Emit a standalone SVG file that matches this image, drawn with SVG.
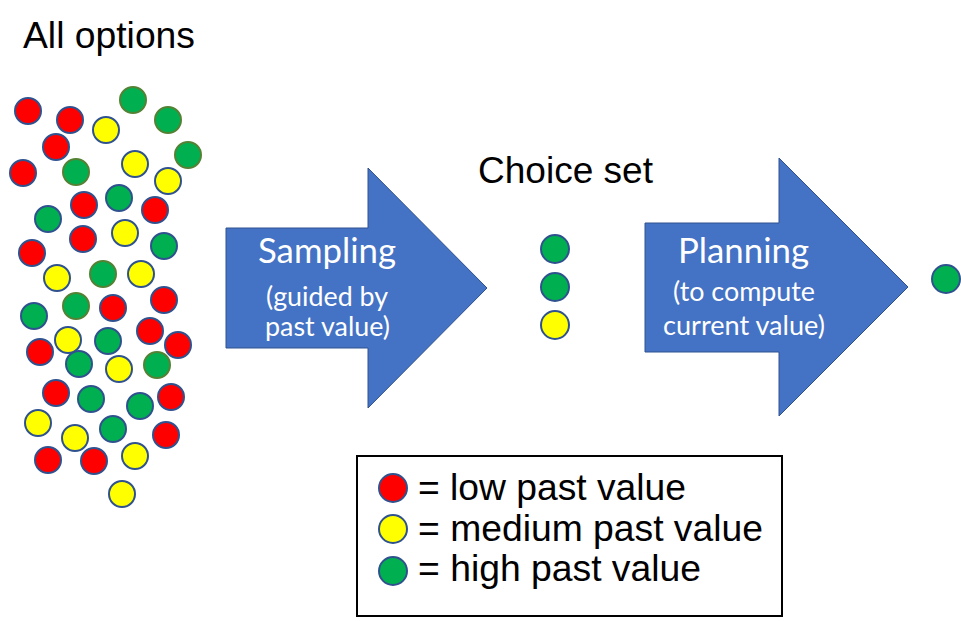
<svg xmlns="http://www.w3.org/2000/svg" width="961" height="621" viewBox="0 0 961 621">
<style>
.t{font-family:"Liberation Sans",Arial,sans-serif;font-size:36px;fill:#000}
.c{font-family:Lato,"Open Sans",sans-serif;fill:#fff}
.big{font-size:34px}
.sm{font-size:27px}
.r{fill:#FF0000;stroke:#2F528F;stroke-width:2}
.y{fill:#FFFF00;stroke:#2F528F;stroke-width:2}
.g{fill:#00B050;stroke:#2F528F;stroke-width:2}
.go{fill:#00B050;stroke:#548235;stroke-width:2}
.arrow{fill:#4472C4;stroke:#2F528F;stroke-width:1}
</style>
<rect width="961" height="621" fill="#fff"/>
<g id="title"><text class="t" x="23" y="48" textLength="172" lengthAdjust="spacingAndGlyphs">All options</text></g>
<g id="all-options">
<circle class="r" cx="28" cy="111" r="13"/>
<circle class="r" cx="70" cy="120" r="13"/>
<circle class="go" cx="133" cy="100" r="13"/>
<circle class="go" cx="168" cy="120" r="13"/>
<circle class="y" cx="106" cy="130" r="13"/>
<circle class="r" cx="56" cy="147" r="13"/>
<circle class="go" cx="188" cy="155" r="13"/>
<circle class="r" cx="23" cy="173" r="13"/>
<circle class="go" cx="76" cy="172" r="13"/>
<circle class="y" cx="135" cy="164" r="13"/>
<circle class="y" cx="168" cy="181" r="13"/>
<circle class="r" cx="84" cy="205" r="13"/>
<circle class="g" cx="119" cy="198" r="13"/>
<circle class="g" cx="48" cy="219" r="13"/>
<circle class="r" cx="155" cy="210" r="13"/>
<circle class="r" cx="83" cy="239" r="13"/>
<circle class="y" cx="125" cy="233" r="13"/>
<circle class="g" cx="164" cy="246" r="13"/>
<circle class="r" cx="32" cy="253" r="13"/>
<circle class="y" cx="57" cy="278" r="13"/>
<circle class="go" cx="103" cy="274" r="13"/>
<circle class="y" cx="141" cy="274" r="13"/>
<circle class="r" cx="164" cy="300" r="13"/>
<circle class="go" cx="76" cy="306" r="13"/>
<circle class="r" cx="113" cy="308" r="13"/>
<circle class="g" cx="34" cy="316" r="13"/>
<circle class="r" cx="150" cy="331" r="13"/>
<circle class="y" cx="68" cy="340" r="13"/>
<circle class="g" cx="108" cy="341" r="13"/>
<circle class="r" cx="178" cy="345" r="13"/>
<circle class="r" cx="40" cy="352" r="13"/>
<circle class="g" cx="79" cy="364" r="13"/>
<circle class="y" cx="119" cy="369" r="13"/>
<circle class="go" cx="157" cy="365" r="13"/>
<circle class="r" cx="56" cy="393" r="13"/>
<circle class="g" cx="91" cy="399" r="13"/>
<circle class="r" cx="171" cy="397" r="13"/>
<circle class="g" cx="140" cy="406" r="13"/>
<circle class="y" cx="38" cy="423" r="13"/>
<circle class="y" cx="75" cy="438" r="13"/>
<circle class="g" cx="113" cy="429" r="13"/>
<circle class="r" cx="166" cy="435" r="13"/>
<circle class="r" cx="48" cy="460" r="13"/>
<circle class="r" cx="94" cy="461" r="13"/>
<circle class="y" cx="135" cy="456" r="13"/>
<circle class="y" cx="122" cy="494" r="13"/>
</g>
<g id="connectors">
<g id="sampling-arrow">
<polygon class="arrow" points="226,228 368,228 368,168 487,288 368,408 368,348 226,348"/>
<text class="c big" x="258" y="263" textLength="138" lengthAdjust="spacingAndGlyphs">Sampling</text>
<text class="c sm" x="266" y="306" textLength="122" lengthAdjust="spacingAndGlyphs">(guided by</text>
<text class="c sm" x="265" y="336" textLength="125" lengthAdjust="spacingAndGlyphs">past value)</text>
</g>
<g id="planning-arrow">
<polygon class="arrow" points="645,223 779,223 779,158 908,287 779,416 779,352 645,352"/>
<text class="c big" x="678" y="263" textLength="131" lengthAdjust="spacingAndGlyphs">Planning</text>
<text class="c sm" x="673" y="301" textLength="142" lengthAdjust="spacingAndGlyphs">(to compute</text>
<text class="c sm" x="663" y="335" textLength="162" lengthAdjust="spacingAndGlyphs">current value)</text>
</g>
</g>
<g id="choice-set">
<text class="t" x="478" y="183" textLength="175" lengthAdjust="spacingAndGlyphs">Choice set</text>
<circle class="g" cx="555" cy="249" r="14" stroke-width="1.5"/>
<circle class="g" cx="555" cy="287" r="14" stroke-width="1.5"/>
<circle class="y" cx="555" cy="325" r="14" stroke-width="1.5"/>
</g>
<g id="result">
<circle class="g" cx="946" cy="279" r="14" stroke-width="1.5"/>
</g>
<g id="legend">
<rect x="357" y="456" width="425" height="160" fill="#fff" stroke="#000" stroke-width="2"/>
<circle class="r" cx="393" cy="488" r="14" stroke-width="1.5"/>
<circle class="y" cx="393" cy="529" r="14" stroke-width="1.5"/>
<circle class="g" cx="393" cy="571" r="14" stroke-width="1.5"/>
<text class="t" x="418" y="500" textLength="268" lengthAdjust="spacingAndGlyphs">= low past value</text>
<text class="t" x="418" y="541" textLength="345" lengthAdjust="spacingAndGlyphs">= medium past value</text>
<text class="t" x="418" y="581" textLength="283" lengthAdjust="spacingAndGlyphs">= high past value</text>
</g>
</svg>
